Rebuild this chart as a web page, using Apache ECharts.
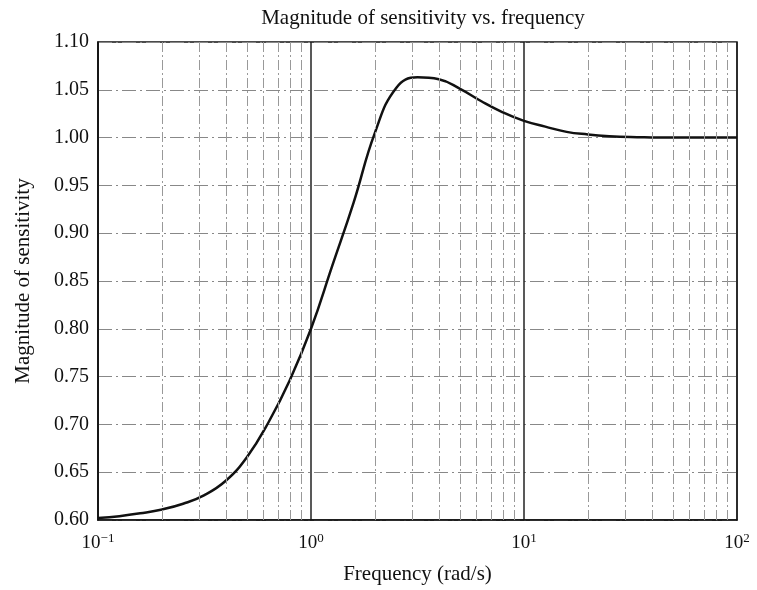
<!DOCTYPE html>
<html>
<head>
<meta charset="utf-8">
<script src="https://cdn.jsdelivr.net/npm/echarts@6/dist/echarts.min.js"></script>
<style>html,body{margin:0;padding:0;background:#fff}#c{width:757px;height:590px}</style>
</head>
<body>
<div id="c"></div>
<script>
const frequency = [0.1, 0.126, 0.158, 0.2, 0.251, 0.316, 0.398, 0.501, 0.631, 0.794, 1.0, 1.259, 1.585, 1.995, 2.512, 3.162, 3.981, 5.012, 6.31, 7.943, 10, 12.59, 15.85, 19.95, 25.12, 31.62, 39.81, 50.12, 63.1, 79.43, 100];
const magnitude = [0.602, 0.604, 0.607, 0.611, 0.617, 0.626, 0.641, 0.666, 0.702, 0.746, 0.800, 0.866, 0.932, 1.005, 1.052, 1.063, 1.061, 1.051, 1.038, 1.0265, 1.0175, 1.0115, 1.006, 1.0033, 1.0015, 1.0005, 1.0002, 1.000, 1.000, 1.000, 1.000];
const minorGridX = [0.2,0.3,0.4,0.5,0.6,0.7,0.8,0.9,2,3,4,5,6,7,8,9,20,30,40,50,60,70,80,90];

const chart = echarts.init(document.getElementById('c'));
const serif = '"Liberation Serif", "DejaVu Serif", serif';
chart.setOption({
  animation: false,
  title: {
    text: 'Magnitude of sensitivity vs. frequency',
    left: 418, top: 3, textAlign: 'center',
    textStyle: {fontFamily: serif, fontSize: 21, fontWeight: 'normal', color: '#111'}
  },
  grid: {left: 98, right: 20, top: 42, bottom: 69, show: true, borderColor: '#111', borderWidth: 1.5, backgroundColor: 'transparent'},
  xAxis: {
    type: 'log', logBase: 10, min: 0.1, max: 100,
    name: 'Frequency (rad/s)', nameLocation: 'middle', nameGap: 44,
    nameTextStyle: {fontFamily: serif, fontSize: 21, color: '#111'},
    axisLine: {lineStyle: {color: '#111', width: 1.5}},
    axisTick: {show: false},
    splitLine: {show: true, lineStyle: {color: '#222', width: 1.5}},
    axisLabel: {
      margin: 12,
      formatter: function (v) {
        const e = Math.round(Math.log10(v));
        return '{b|10}{s|' + (e < 0 ? '\u2212' + (-e) : e) + '}';
      },
      rich: {
        b: {fontFamily: serif, fontSize: 19, color: '#111'},
        s: {fontFamily: serif, fontSize: 13, color: '#111', verticalAlign: 'bottom', padding: [0, 0, 10, 0]}
      }
    }
  },
  yAxis: {
    type: 'value', min: 0.6, max: 1.1, interval: 0.05,
    name: 'Magnitude of sensitivity', nameLocation: 'middle', nameGap: 64, nameRotate: 90,
    nameTextStyle: {fontFamily: serif, fontSize: 21, color: '#111'},
    axisLine: {show: true, lineStyle: {color: '#111', width: 1.5}},
    axisTick: {show: false},
    splitLine: {show: true, lineStyle: {color: '#888', width: 1, type: [14, 4, 2, 4]}},
    axisLabel: {
      margin: 9,
      fontFamily: serif, fontSize: 20, color: '#111',
      formatter: function (v) { return v.toFixed(2); }
    }
  },
  series: [
    {
      type: 'line', data: [], silent: true,
      markLine: {
        silent: true, symbol: ['none', 'none'], label: {show: false},
        lineStyle: {color: '#999', width: 1, type: [10, 3, 2, 3]},
        data: minorGridX.map(v => ({xAxis: v}))
      }
    },
    {
      type: 'line',
      data: frequency.map((f, i) => [f, magnitude[i]]),
      smooth: 0.45, showSymbol: false,
      lineStyle: {color: '#111', width: 2.5}
    }
  ]
});
</script>
</body>
</html>
